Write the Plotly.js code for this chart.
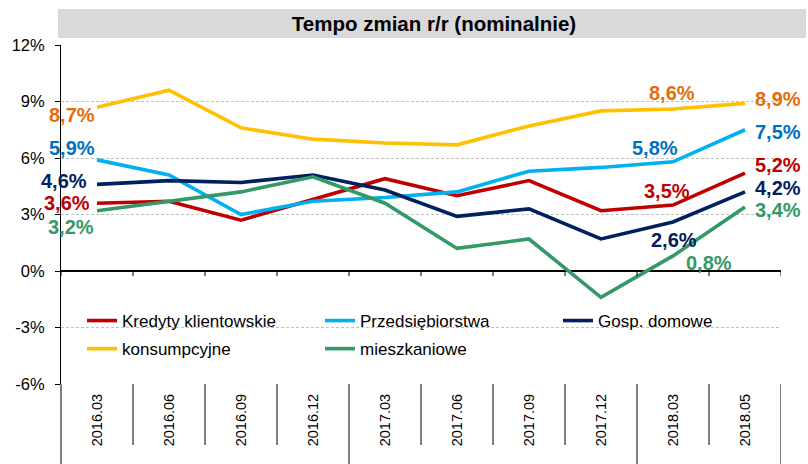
<!DOCTYPE html>
<html>
<head>
<meta charset="utf-8">
<script src="https://cdn.plot.ly/plotly-3.0.1.min.js"></script>
<style>html,body{margin:0;padding:0;background:#fff;}#chart{width:808px;height:464px;}</style>
</head>
<body>
<div id="chart"></div>
<script>
// ---- data ----
const categories = ['2016.03','2016.06','2016.09','2016.12','2017.03','2017.06','2017.09','2017.12','2018.03','2018.05'];
const kredytyKlientowskie = [3.6, 3.7, 2.7, 3.8, 4.9, 4.0, 4.8, 3.2, 3.5, 5.2];
const przedsiebiorstwa    = [5.9, 5.1, 3.0, 3.7, 3.9, 4.2, 5.3, 5.5, 5.8, 7.5];
const gospDomowe          = [4.6, 4.8, 4.7, 5.1, 4.3, 2.9, 3.3, 1.7, 2.6, 4.2];
const konsumpcyjne        = [8.7, 9.6, 7.6, 7.0, 6.8, 6.7, 7.7, 8.5, 8.6, 8.9];
const mieszkaniowe        = [3.2, 3.7, 4.2, 5.0, 3.6, 1.2, 1.7, -1.4, 0.8, 3.4];
const seriesNames = ['Kredyty klientowskie', 'Przedsiębiorstwa', 'Gosp. domowe', 'konsumpcyjne', 'mieszkaniowe'];
const labelIndices = [0, 8, 9];
const yTickValues = [-6, -3, 0, 3, 6, 9, 12];
const chartTitle = 'Tempo zmian r/r (nominalnie)';

// ---- styling ----
const FONT = 'Liberation Sans, Arial, sans-serif';
const seriesValues = [kredytyKlientowskie, przedsiebiorstwa, gospDomowe, konsumpcyjne, mieszkaniowe];
const lineColors  = ['#C00000', '#00B0F0', '#002060', '#FFC000', '#339966'];
const labelColors = ['#C00000', '#0070C0', '#002060', '#E46C0A', '#339966'];
const legendColumn = ['legend', 'legend2', 'legend3', 'legend', 'legend2'];
// per series, per labelled point: [xanchor, xshift, yshift]
const labelPlacement = [
  [['right', -5, 0],  ['center', -6, 14], ['left', 8, 8]],
  [['right', 0, 12],  ['center', -18, 14], ['left', 8, -2]],
  [['right', -8, 3],  ['center', 1, -18], ['left', 8, 4]],
  [['right', 0, -8],  ['center', -1, 16], ['left', 8, 4]],
  [['right', -1, -16],['left', 11, -7],   ['left', 8, -3]]
];

const traces = seriesValues.map((vals, s) => ({
  type: 'scatter', mode: 'lines', name: seriesNames[s],
  x: categories, y: vals,
  line: {color: lineColors[s], width: 3.6},
  legend: legendColumn[s], legendgroup: 'g' + s,
  hoverinfo: 'skip'
}));

const fmt = v => v.toFixed(1).replace('.', ',') + '%';
const annotations = [];
seriesValues.forEach((vals, s) => {
  labelIndices.forEach((idx, k) => {
    const p = labelPlacement[s][k];
    annotations.push({
      x: idx, y: vals[idx], xref: 'x', yref: 'y',
      text: '<b>' + fmt(vals[idx]) + '</b>', showarrow: false,
      xanchor: p[0], yanchor: 'middle', xshift: p[1], yshift: p[2],
      font: {family: FONT, size: 20, color: labelColors[s]}
    });
  });
});

const yMin = -6, yMax = 12;
const plotTop = 45, plotBottom = 384, plotLeft = 61, plotRight = 781;
const plotH = plotBottom - plotTop, plotW = plotRight - plotLeft;
const zeroFrac = (0 - yMin) / (yMax - yMin);

const shapes = [];
shapes.push({type: 'rect', xref: 'paper', yref: 'paper', layer: 'below',
  x0: -3 / plotW, x1: (806 - plotLeft) / plotW, y0: (plotBottom - 38) / plotH, y1: (plotBottom - 9) / plotH,
  fillcolor: '#D9D9D9', line: {width: 0}});
shapes.push({type: 'line', xref: 'paper', yref: 'paper', x0: 0, x1: 0, y0: -80 / plotH, y1: 0,
  line: {color: '#000', width: 1}});
for (let i = 0; i <= categories.length; i++) {
  const xb = i - 0.5;
  const yearChange = (i === 0 || i === categories.length ||
    categories[i].slice(0, 4) !== categories[i - 1].slice(0, 4));
  if (i > 0) {
    shapes.push({type: 'line', xref: 'x', yref: 'paper', x0: xb, x1: xb,
      y0: yearChange ? -80 / plotH : -61 / plotH, y1: 0, line: {color: '#000', width: 1}});
  }
  shapes.push({type: 'line', xref: 'x', yref: 'paper', x0: xb, x1: xb,
    y0: zeroFrac - 5 / plotH, y1: zeroFrac, line: {color: '#000', width: 1}});
}

const legendBase = px => ({
  orientation: 'v', x: (px - plotLeft) / plotW, xanchor: 'left',
  y: (plotBottom - 303) / plotH, yanchor: 'top',
  bgcolor: 'rgba(0,0,0,0)', borderwidth: 0,
  font: {family: FONT, size: 17, color: '#000'},
  traceorder: 'grouped', tracegroupgap: 3, itemwidth: 30
});

const layout = {
  width: 808, height: 464,
  margin: {l: plotLeft, r: 808 - plotRight, t: plotTop, b: 464 - plotBottom, pad: 0},
  paper_bgcolor: '#fff', plot_bgcolor: '#fff',
  font: {family: FONT, color: '#000'},
  title: {text: '<b>' + chartTitle + '</b>', font: {family: FONT, size: 20.5, color: '#000'},
    x: 434 / 808, xanchor: 'center', xref: 'container', y: 1 - 24 / 464, yanchor: 'middle', yref: 'container'},
  xaxis: {
    type: 'category', categoryorder: 'array', categoryarray: categories,
    range: [-0.5, categories.length - 0.5],
    showgrid: false, zeroline: false, showline: false, ticks: '',
    tickangle: -90, tickfont: {family: FONT, size: 14.5, color: '#000'},
    ticklabelstandoff: 6, fixedrange: true
  },
  yaxis: {
    range: [yMin, yMax], tickvals: yTickValues, ticktext: yTickValues.map(v => v + '%'),
    showgrid: true, gridcolor: '#BFBFBF', griddash: '3px,2px', gridwidth: 1,
    zeroline: true, zerolinecolor: '#000', zerolinewidth: 1.3,
    showline: true, linecolor: '#000', linewidth: 1,
    ticks: 'outside', ticklen: 5, tickcolor: '#000',
    tickfont: {family: FONT, size: 16.5, color: '#000'},
    ticklabelstandoff: 7, fixedrange: true
  },
  legend: legendBase(82),
  legend2: legendBase(320),
  legend3: legendBase(558),
  showlegend: true,
  annotations: annotations,
  shapes: shapes
};

Plotly.newPlot('chart', traces, layout, {displayModeBar: false, staticPlot: true});
</script>
</body>
</html>
